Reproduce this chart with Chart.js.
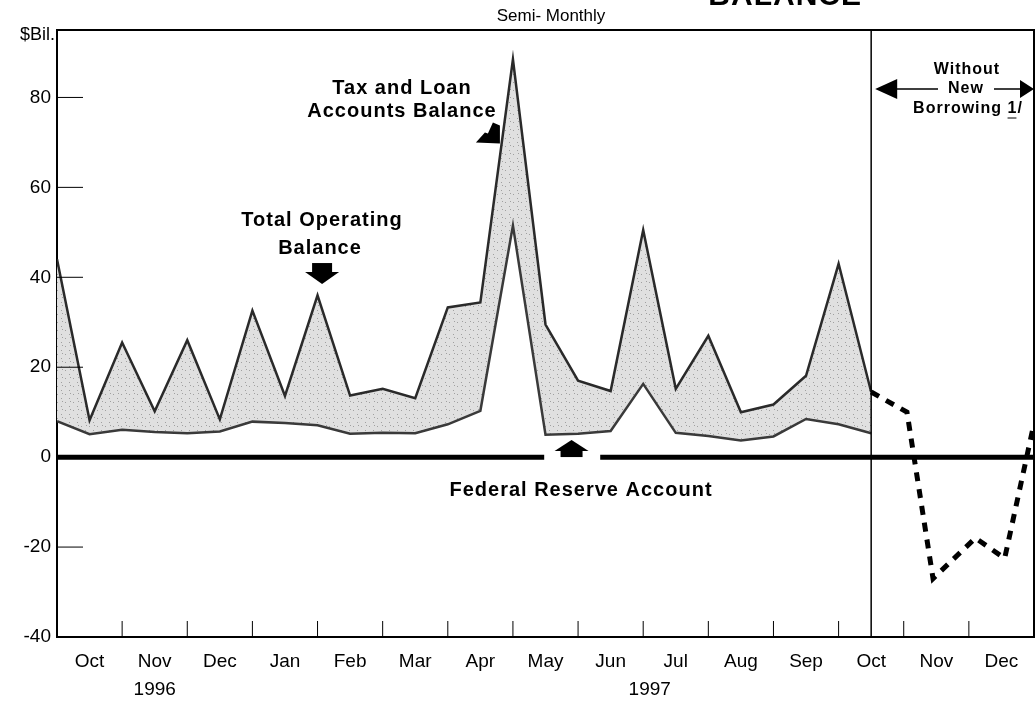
<!DOCTYPE html>
<html>
<head>
<meta charset="utf-8">
<script src="https://cdn.jsdelivr.net/npm/chart.js@4.4.1/dist/chart.umd.min.js"></script>
<style>
  html, body { margin: 0; padding: 0; background: #fff; }
  #wrap { width: 1036px; height: 706px; }
</style>
</head>
<body>
<div id="wrap"><canvas id="cashChart" width="1036" height="706"></canvas></div>
<script>
// Semi-monthly points, x = months counted from Oct 1 1996
const periods = [0, 0.5, 1, 1.5, 2, 2.5, 3, 3.5, 4, 4.5, 5, 5.5, 6, 6.5, 7, 7.5, 8, 8.5, 9, 9.5, 10, 10.5, 11, 11.5, 12, 12.5];
const totalBalance = [44, 8.2, 25.5, 10.2, 26, 8.4, 32.6, 13.6, 36, 13.7, 15.2, 13.1, 33.3, 34.4, 88.5, 29.5, 17, 14.7, 50.5, 15.2, 27, 10, 11.7, 18.1, 43, 14.5];
const fedAccount = [8, 5.1, 6.1, 5.6, 5.3, 5.7, 7.9, 7.6, 7.1, 5.2, 5.4, 5.3, 7.3, 10.3, 51.5, 5, 5.2, 5.8, 16.3, 5.4, 4.7, 3.7, 4.6, 8.5, 7.3, 5.3];

// Projection without new borrowing (dashed)
const projPeriods = [12.5, 13.05, 13.45, 14.1, 14.55, 15];
const projBalance = [14.5, 10, -27, -18, -22.5, 7.5];

const monthLabels = ['Oct', 'Nov', 'Dec', 'Jan', 'Feb', 'Mar', 'Apr', 'May', 'Jun', 'Jul', 'Aug', 'Sep', 'Oct', 'Nov', 'Dec'];
const monthTicks = [1, 2, 3, 4, 5, 6, 7, 8, 9, 10, 11, 12, 13, 14];
const yearLabels = ['1996', '1997'];
const yearPos = [1.5, 9.1];
const yTicks = [-40, -20, 0, 20, 40, 60, 80];

const FONT = "'Liberation Sans', Arial, Helvetica, sans-serif";
const canvas = document.getElementById('cashChart');
const ctx = canvas.getContext('2d');

// light gray stipple for the tax and loan band
function stipple() {
  const c = document.createElement('canvas');
  c.width = 8; c.height = 8;
  const g = c.getContext('2d');
  g.fillStyle = '#e0e0e0';
  g.fillRect(0, 0, 8, 8);
  g.fillStyle = '#a0a0a0';
  g.fillRect(1, 2, 1, 1);
  g.fillRect(5, 6, 1, 1);
  g.fillRect(6, 1, 1, 1);
  return ctx.createPattern(c, 'repeat');
}

function text(c, str, x, y, size, bold, spacing) {
  c.font = (bold ? 'bold ' : '') + size + 'px ' + FONT;
  c.letterSpacing = (spacing || 0) + 'px';
  c.fillText(str, x, y);
  c.letterSpacing = '0px';
}

const decor = {
  id: 'decor',
  beforeDatasetsDraw(chart) {
    const { ctx: c, chartArea: a, scales: { x, y } } = chart;
    const y0 = y.getPixelForValue(0);
    c.save();
    c.strokeStyle = '#000';
    c.lineWidth = 5;
    c.beginPath();
    c.moveTo(a.left, y0);
    c.lineTo(x.getPixelForValue(7.48), y0);
    c.moveTo(x.getPixelForValue(8.34), y0);
    c.lineTo(a.right, y0);
    c.stroke();
    c.restore();
  },
  afterDatasetsDraw(chart) {
    const { ctx: c, chartArea: a, scales: { x, y } } = chart;
    c.save();
    c.strokeStyle = '#000';
    c.fillStyle = '#000';

    // top and right frame
    c.lineWidth = 2;
    c.beginPath();
    c.moveTo(a.left, a.top);
    c.lineTo(a.right, a.top);
    c.lineTo(a.right, a.bottom);
    c.stroke();

    // inward tick marks
    c.lineWidth = 1;
    c.beginPath();
    yTicks.forEach(v => {
      if (v === -40 || v === 0) return;
      const py = y.getPixelForValue(v);
      c.moveTo(a.left, py);
      c.lineTo(a.left + 26, py);
    });
    monthTicks.forEach(m => {
      const px = x.getPixelForValue(m);
      c.moveTo(px, a.bottom);
      c.lineTo(px, a.bottom - 16);
    });
    c.stroke();

    // Oct 15 1997 divider
    const vx = x.getPixelForValue(12.5);
    c.lineWidth = 1.5;
    c.beginPath();
    c.moveTo(vx, a.top);
    c.lineTo(vx, a.bottom);
    c.stroke();

    // arrow: Total Operating Balance (down)
    let cx = x.getPixelForValue(4.07), ty = y.getPixelForValue(38.5);
    c.beginPath();
    c.rect(cx - 10, ty - 21, 20, 10);
    c.fill();
    c.beginPath();
    c.moveTo(cx - 17, ty - 12); c.lineTo(cx + 17, ty - 12); c.lineTo(cx, ty);
    c.closePath();
    c.fill();

    // arrow: Federal Reserve Account (up)
    cx = x.getPixelForValue(7.9); ty = y.getPixelForValue(3.8);
    c.beginPath();
    c.rect(cx - 11, ty + 10, 22, 7);
    c.fill();
    c.beginPath();
    c.moveTo(cx - 17, ty + 11); c.lineTo(cx + 17, ty + 11); c.lineTo(cx, ty);
    c.closePath();
    c.fill();

    // arrow: Tax and Loan band
    cx = x.getPixelForValue(6.8); ty = y.getPixelForValue(70);
    c.beginPath();
    c.moveTo(cx - 24, ty);
    c.lineTo(cx - 15, ty - 10);
    c.lineTo(cx - 12, ty - 9);
    c.lineTo(cx - 7, ty - 20);
    c.lineTo(cx, ty - 17);
    c.lineTo(cx, ty + 1);
    c.closePath();
    c.fill();

    // labels
    c.textAlign = 'center';
    c.textBaseline = 'middle';
    text(c, 'Tax and Loan', 402, 88, 20, true, 1);
    text(c, 'Accounts Balance', 402, 111, 20, true, 1);
    text(c, 'Total Operating', 322, 220, 20, true, 1);
    text(c, 'Balance', 320, 248, 20, true, 1);
    text(c, 'Federal Reserve Account', 581, 490, 20, true, 1);

    // Without New Borrowing block
    const ay = 89;
    text(c, 'Without', 967, 70, 16, true, 1);
    text(c, 'New', 966, ay, 16, true, 1);
    text(c, 'Borrowing 1/', 968, 109, 16, true, 1);
    c.font = 'bold 16px ' + FONT;
    c.letterSpacing = '1px';
    const fullW = c.measureText('Borrowing 1/').width;
    const preW = c.measureText('Borrowing ').width;
    const oneW = c.measureText('1').width;
    c.letterSpacing = '0px';
    const ux = 968 - fullW / 2 + preW;
    c.lineWidth = 1;
    c.beginPath();
    c.moveTo(ux, 118); c.lineTo(ux + oneW - 1, 118);
    c.stroke();

    c.lineWidth = 1.5;
    c.beginPath();
    c.moveTo(vx + 24, ay); c.lineTo(938, ay);
    c.moveTo(994, ay); c.lineTo(a.right - 12, ay);
    c.stroke();
    c.beginPath();
    c.moveTo(vx + 4, ay); c.lineTo(vx + 26, ay - 10); c.lineTo(vx + 26, ay + 10);
    c.closePath();
    c.fill();
    c.beginPath();
    c.moveTo(a.right, ay); c.lineTo(a.right - 14, ay - 9); c.lineTo(a.right - 14, ay + 9);
    c.closePath();
    c.fill();

    // titles (the page heading is cut off at the top edge)
    c.textAlign = 'right';
    c.textBaseline = 'alphabetic';
    text(c, 'BALANCE', 862, 5, 30, true, 1);
    c.textAlign = 'center';
    c.textBaseline = 'middle';
    text(c, 'Semi- Monthly', 551, 16, 17, false, 0);
    c.textAlign = 'left';
    text(c, '$Bil.', 20, 35, 18, false, 0);

    // years under the month axis
    c.textAlign = 'center';
    yearLabels.forEach((yr, i) => {
      text(c, yr, x.getPixelForValue(yearPos[i]), 690, 19, false, 0);
    });
    c.restore();
  }
};

const pattern = stipple();

const cashChart = new Chart(canvas, {
  type: 'line',
  data: {
    datasets: [
      {
        label: 'Total Operating Balance',
        data: periods.map((p, i) => ({ x: p, y: totalBalance[i] })),
        borderColor: '#2a2a2a',
        borderWidth: 2.5,
        pointRadius: 0,
        tension: 0,
        fill: { target: 1 },
        backgroundColor: pattern
      },
      {
        label: 'Federal Reserve Account',
        data: periods.map((p, i) => ({ x: p, y: fedAccount[i] })),
        borderColor: '#3a3a3a',
        borderWidth: 2.5,
        pointRadius: 0,
        tension: 0,
        fill: false
      },
      {
        label: 'Without New Borrowing',
        data: projPeriods.map((p, i) => ({ x: p, y: projBalance[i] })),
        borderColor: '#000',
        borderWidth: 5,
        borderDash: [9, 8],
        pointRadius: 0,
        tension: 0,
        fill: false
      }
    ]
  },
  options: {
    responsive: false,
    animation: false,
    layout: { padding: { top: 30, right: 2, left: 0, bottom: 0 } },
    plugins: {
      legend: { display: false },
      tooltip: { enabled: false },
      filler: { drawTime: 'beforeDatasetsDraw' }
    },
    scales: {
      x: {
        type: 'linear',
        min: 0,
        max: 15,
        afterBuildTicks: s => { s.ticks = monthLabels.map((m, i) => ({ value: i + 0.5 })); },
        afterFit: s => { s.height = 69; },
        ticks: {
          autoSkip: false,
          maxRotation: 0,
          padding: 13,
          color: '#000',
          font: { family: FONT, size: 19 },
          callback: v => monthLabels[Math.floor(v)]
        },
        grid: { display: false, drawTicks: false },
        border: { display: true, color: '#000', width: 2 }
      },
      y: {
        min: -40,
        max: 95,
        afterBuildTicks: s => { s.ticks = yTicks.map(v => ({ value: v })); },
        afterFit: s => { s.width = 57; },
        ticks: {
          padding: 6,
          color: '#000',
          font: { family: FONT, size: 19 }
        },
        grid: { display: false, drawTicks: false },
        border: { display: true, color: '#000', width: 2 }
      }
    }
  },
  plugins: [decor]
});
</script>
</body>
</html>
